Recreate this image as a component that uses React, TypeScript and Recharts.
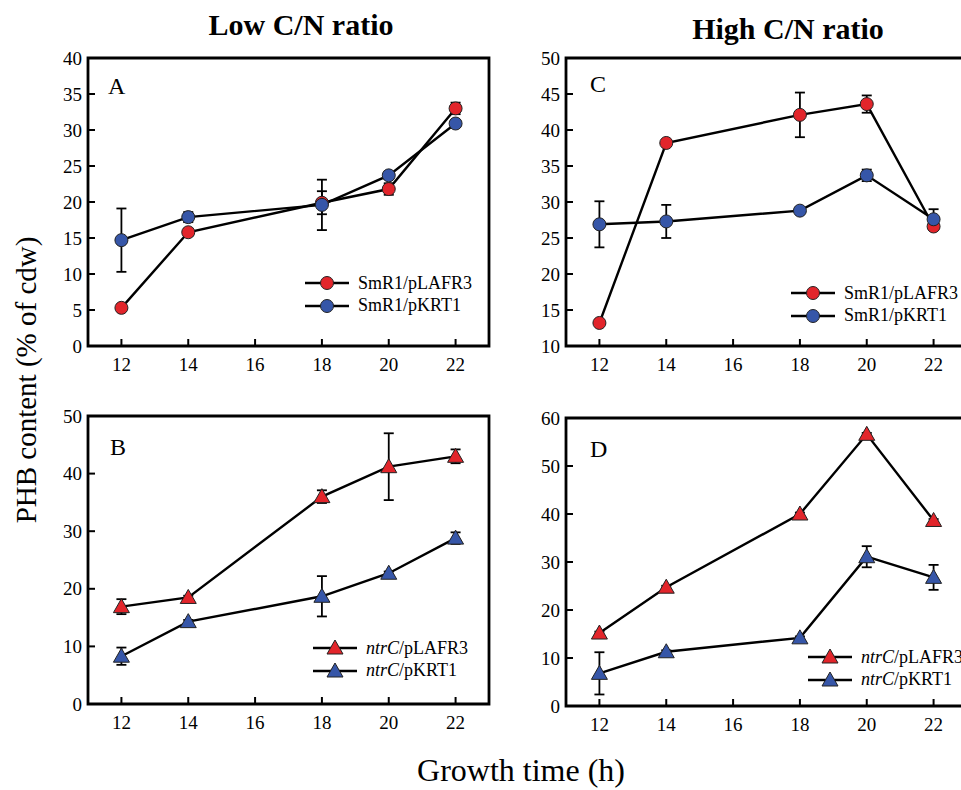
import React from 'react';
import { LineChart, Line, XAxis, YAxis, ReferenceArea, ErrorBar, Legend } from 'recharts';

const hours = [12, 14, 18, 20, 22];
const xTicks = [12, 14, 16, 18, 20, 22];

// Panel A - low C/N, SmR1
const aRed = [5.3, 15.8, 19.9, 21.8, 33.0];
const aRedErr = [0.4, 0.5, 1.6, 0.8, 0.8];
const aBlue = [14.7, 17.9, 19.6, 23.7, 30.9];
const aBlueErr = [4.4, 0.7, 3.5, 0.5, 0.3];

// Panel C - high C/N, SmR1
const cRed = [13.2, 38.2, 42.1, 43.6, 26.6];
const cRedErr = [0.3, 0.3, 3.1, 1.2, 0.4];
const cBlue = [26.9, 27.3, 28.8, 33.7, 27.6];
const cBlueErr = [3.2, 2.3, 0.3, 0.8, 1.4];

// Panel B - low C/N, ntrC
const bRed = [16.9, 18.5, 36.0, 41.2, 43.0];
const bRedErr = [1.3, 0.3, 1.1, 5.8, 1.2];
const bBlue = [8.3, 14.3, 18.7, 22.7, 28.8];
const bBlueErr = [1.5, 0.3, 3.5, 0.3, 1.0];

// Panel D - high C/N, ntrC
const dRed = [15.2, 24.75, 40.0, 56.6, 38.65];
const dRedErr = [0.3, 0.3, 0.3, 0.3, 0.3];
const dBlue = [6.8, 11.3, 14.2, 31.1, 26.8];
const dBlueErr = [4.4, 0.3, 0.3, 2.2, 2.6];

const aTicks = [0, 5, 10, 15, 20, 25, 30, 35, 40];
const cTicks = [10, 15, 20, 25, 30, 35, 40, 45, 50];
const bTicks = [0, 10, 20, 30, 40, 50];
const dTicks = [0, 10, 20, 30, 40, 50, 60];

const RED = '#e2252b';
const BLUE = '#3656a8';
const FONT = '"Liberation Serif", "Times New Roman", serif';

const build = (red: number[], redErr: number[], blue: number[], blueErr: number[]) =>
  hours.map((h, i) => ({ h, red: red[i], redErr: redErr[i], blue: blue[i], blueErr: blueErr[i] }));

const XTick = (p: any) => (
  <g>
    <line x1={p.x} y1={p.y} x2={p.x} y2={p.y - 7} stroke="#000" strokeWidth={2} />
    <text x={p.x} y={p.y + 25} textAnchor="middle" fontSize={19} fontFamily={FONT} fill="#000">
      {p.payload.value}
    </text>
  </g>
);

const YTick = (p: any) => (
  <g>
    <line x1={p.x} y1={p.y} x2={p.x + 7} y2={p.y} stroke="#000" strokeWidth={2} />
    <text x={p.x - 6} y={p.y} dy="0.35em" textAnchor="end" fontSize={19} fontFamily={FONT} fill="#000">
      {p.payload.value}
    </text>
  </g>
);

const circleDot = (fill: string) => (p: any) => (
  <circle key={`c${p.index}`} cx={p.cx} cy={p.cy} r={6.5} fill={fill} stroke="#222" strokeWidth={1} />
);

const triDot = (fill: string) => (p: any) => (
  <polygon
    key={`t${p.index}`}
    points={`${p.cx},${p.cy - 8} ${p.cx - 8},${p.cy + 6} ${p.cx + 8},${p.cy + 6}`}
    fill={fill}
    stroke="#222"
    strokeWidth={1}
  />
);

const Marker = ({ shape, fill }: { shape: string; fill: string }) =>
  shape === 'circle' ? (
    <circle cx={22} cy={11} r={6.5} fill={fill} stroke="#222" strokeWidth={1} />
  ) : (
    <polygon points="22,3 14,17 30,17" fill={fill} stroke="#222" strokeWidth={1} />
  );

const LegendBox = ({ items, shape }: { items: { label: React.ReactNode; fill: string }[]; shape: string }) => (
  <div>
    {items.map((it, i) => (
      <div key={i} style={{ display: 'flex', alignItems: 'center', height: 22.5 }}>
        <svg width={44} height={22} style={{ display: 'block' }}>
          <line x1={0} x2={44} y1={11} y2={11} stroke="#000" strokeWidth={2.4} />
          <Marker shape={shape} fill={it.fill} />
        </svg>
        <span style={{ marginLeft: 9, fontSize: 18, fontFamily: FONT, color: '#000', whiteSpace: 'nowrap' }}>
          {it.label}
        </span>
      </div>
    ))}
  </div>
);

interface PanelProps {
  left: number;
  top: number;
  data: any[];
  yDomain: [number, number];
  yTicks: number[];
  shape: string;
  legendLeft: number;
  legendTop: number;
  labels: React.ReactNode[];
}

const Panel: React.FC<PanelProps> = ({ left, top, data, yDomain, yTicks, shape, legendLeft, legendTop, labels }) => {
  const dot = shape === 'circle' ? circleDot : triDot;
  return (
    <div style={{ position: 'absolute', left, top }}>
      <LineChart width={500} height={390} data={data} margin={{ top: 58, right: 11, bottom: 4, left: 0 }}>
        <XAxis
          dataKey="h"
          type="number"
          domain={[11, 23]}
          ticks={xTicks}
          interval={0}
          height={40}
          axisLine={false}
          tickLine={false}
          tickSize={0}
          tickMargin={0}
          tick={(p: any) => <XTick {...p} />}
        />
        <YAxis
          type="number"
          domain={yDomain}
          ticks={yTicks}
          interval={0}
          width={88}
          axisLine={false}
          tickLine={false}
          tickSize={0}
          tickMargin={0}
          tick={(p: any) => <YTick {...p} />}
        />
        <ReferenceArea
          x1={11}
          x2={23}
          y1={yDomain[0]}
          y2={yDomain[1]}
          fill="none"
          fillOpacity={0}
          stroke="#000"
          strokeWidth={2.8}
          ifOverflow="visible"
        />
        <Line
          type="linear"
          dataKey="red"
          stroke="#000"
          strokeWidth={2.4}
          dot={dot(RED)}
          activeDot={false}
          isAnimationActive={false}
        >
          <ErrorBar dataKey="redErr" direction="y" width={5} stroke="#000" strokeWidth={1.8} />
        </Line>
        <Line
          type="linear"
          dataKey="blue"
          stroke="#000"
          strokeWidth={2.4}
          dot={dot(BLUE)}
          activeDot={false}
          isAnimationActive={false}
        >
          <ErrorBar dataKey="blueErr" direction="y" width={5} stroke="#000" strokeWidth={1.8} />
        </Line>
        <Legend
          layout="vertical"
          align="center"
          verticalAlign="middle"
          wrapperStyle={{ left: legendLeft, top: legendTop, width: 220, height: 46 }}
          content={() => (
            <LegendBox
              shape={shape}
              items={[
                { label: labels[0], fill: RED },
                { label: labels[1], fill: BLUE },
              ]}
            />
          )}
        />
      </LineChart>
    </div>
  );
};

const smLabels = ['SmR1/pLAFR3', 'SmR1/pKRT1'];
const ntrLabels = [
  <><i>ntrC</i>/pLAFR3</>,
  <><i>ntrC</i>/pKRT1</>,
];

export default function App() {
  return (
    <div
      style={{
        position: 'absolute',
        left: 0,
        top: 0,
        width: 961,
        height: 790,
        overflow: 'hidden',
        background: '#fff',
        fontFamily: FONT,
      }}
    >
      <Panel left={0} top={0} data={build(aRed, aRedErr, aBlue, aBlueErr)} yDomain={[0, 40]} yTicks={aTicks}
        shape="circle" legendLeft={305} legendTop={272} labels={smLabels} />
      <Panel left={478} top={0} data={build(cRed, cRedErr, cBlue, cBlueErr)} yDomain={[10, 50]} yTicks={cTicks}
        shape="circle" legendLeft={313} legendTop={282} labels={smLabels} />
      <Panel left={0} top={358} data={build(bRed, bRedErr, bBlue, bBlueErr)} yDomain={[0, 50]} yTicks={bTicks}
        shape="triangle" legendLeft={313} legendTop={279} labels={ntrLabels} />
      <Panel left={478} top={360} data={build(dRed, dRedErr, dBlue, dBlueErr)} yDomain={[0, 60]} yTicks={dTicks}
        shape="triangle" legendLeft={330} legendTop={286} labels={ntrLabels} />
      <svg width={961} height={790} style={{ position: 'absolute', left: 0, top: 0, pointerEvents: 'none' }}>
        <text x={301} y={35} textAnchor="middle" fontSize={30} fontWeight="bold" fontFamily={FONT}>Low C/N ratio</text>
        <text x={788} y={39} textAnchor="middle" fontSize={30} fontWeight="bold" fontFamily={FONT}>High C/N ratio</text>
        <text x={108} y={94} fontSize={24} fontFamily={FONT}>A</text>
        <text x={590} y={92} fontSize={24} fontFamily={FONT}>C</text>
        <text x={110} y={455} fontSize={24} fontFamily={FONT}>B</text>
        <text x={590} y={457} fontSize={24} fontFamily={FONT}>D</text>
        <text x={521} y={781} textAnchor="middle" fontSize={32} fontFamily={FONT}>Growth time (h)</text>
        <text transform="translate(36,380) rotate(-90)" textAnchor="middle" fontSize={29} fontFamily={FONT}>
          PHB content (% of cdw)
        </text>
      </svg>
    </div>
  );
}
